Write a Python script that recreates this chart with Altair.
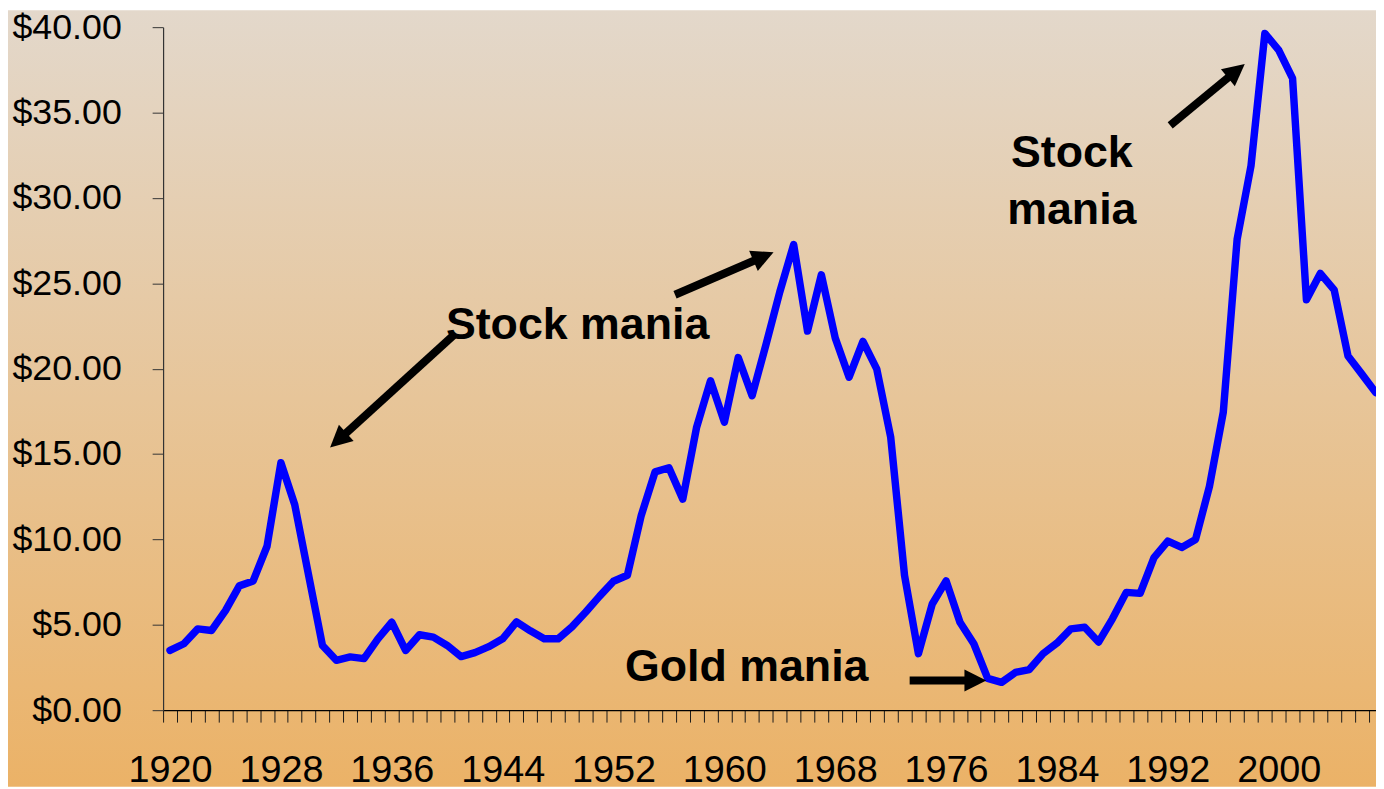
import math
import altair as alt
import pandas as pd

# ---------------- data ----------------
years = list(range(1920, 2008))
ratio = [3.50, 3.89, 4.76, 4.67, 5.83, 7.28, 7.57, 9.60, 14.49, 12.03,
         7.90, 3.79, 2.92, 3.12, 3.02, 4.18, 5.15, 3.50, 4.42, 4.28,
         3.79, 3.14, 3.37, 3.72, 4.18, 5.17, 4.65, 4.18, 4.18, 4.88,
         5.75, 6.68, 7.55, 7.90, 11.40, 13.96, 14.20, 12.36, 16.58, 19.29,
         16.87, 20.65, 18.42, 21.40, 24.50, 27.27, 22.20, 25.50, 21.80, 19.50,
         21.60, 19.97, 16.00, 7.90, 3.31, 6.22, 7.57, 5.15, 3.89, 1.86,
         1.63, 2.21, 2.38, 3.31, 3.93, 4.76, 4.86, 3.99, 5.35, 6.90,
         6.84, 8.93, 9.90, 9.53, 10.00, 13.10, 17.45, 27.58, 31.88, 39.63,
         38.66, 37.00, 24.04, 25.58, 24.62, 20.74, 19.68, 18.60]

y_ticks = [0, 5, 10, 15, 20, 25, 30, 35, 40]
x_label_years = [1920, 1928, 1936, 1944, 1952, 1960, 1968, 1976, 1984, 1992, 2000]

label_text = ["Stock mania", "Gold mania", "Stock", "mania"]
label_x = [1949.41, 1961.61, 1985.07, 1985.07]
label_y = [22.53, 2.55, 32.63, 29.26]

arrow_x0 = [1940.52, 1956.44, 1973.37, 1992.17]
arrow_y0 = [22.00, 24.33, 1.74, 34.25]
arrow_x1 = [1931.55, 1963.55, 1978.90, 1997.55]
arrow_y1 = [15.38, 26.82, 1.74, 37.85]

# ---------------- layout ----------------
W, H = 1220, 687
XMIN, XMAX = 1919.5, 2007.02
YMIN, YMAX = 0, 40
PAD = {"left": 156, "top": 17, "right": 0, "bottom": 77}
FONT = "Liberation Sans"

px_year = W / (XMAX - XMIN)
px_val = H / (YMAX - YMIN)

xs = alt.Scale(domain=[XMIN, XMAX], nice=False, zero=False)
ys = alt.Scale(domain=[YMIN, YMAX], nice=False, zero=False)

Y_AXIS = alt.Axis(
    orient="left", zindex=2,
    values=y_ticks, format="$.2f", labelFontSize=36, labelFont=FONT,
    labelColor="#000000", tickSize=11, tickColor="#333333", tickWidth=1,
    domainColor="#333333", domainWidth=1.2, labelPadding=31, grid=False,
    title=None)

df = pd.DataFrame({"year": years, "ratio": ratio})

# arrow geometry (shaft shortened so the head covers its end)
rows = []
for x0, y0, x1, y1 in zip(arrow_x0, arrow_y0, arrow_x1, arrow_y1):
    dx = (x1 - x0) * px_year
    dy = -(y1 - y0) * px_val
    L = math.hypot(dx, dy)
    ux, uy = dx / L, dy / L
    ang = math.degrees(math.atan2(ux, -uy)) % 360
    back = 14
    rows.append({
        "x0": x0, "y0": y0,
        "xs": x1 - back * ux / px_year, "ys": y1 + back * uy / px_val,
        "x1": x1, "y1": y1, "ang": ang,
    })
arrows = pd.DataFrame(rows)
labels = pd.DataFrame({"t": label_text, "x": label_x, "y": label_y})

grad = alt.Gradient(
    gradient="linear",
    stops=[alt.GradientStop(color="#E3D8CB", offset=0),
           alt.GradientStop(color="#EBB267", offset=1)],
    x1=0, x2=0, y1=0, y2=1,
)

bg = alt.Chart(pd.DataFrame({"a": [0]})).mark_rect(color=grad).encode(
    x=alt.value(-PAD["left"]), x2=alt.value(W),
    y=alt.value(-PAD["top"]), y2=alt.value(H + PAD["bottom"]),
)

line = alt.Chart(df).mark_line(
    color="#0000FF", strokeWidth=7.5, strokeJoin="round", strokeCap="round", clip=True
).encode(
    x=alt.X("year:Q", scale=xs, axis=alt.Axis(
        orient="bottom", zindex=2,
        values=[XMIN + k for k in range(88)], labels=False, ticks=True,
        tickSize=12, tickWidth=1, tickColor="#1a1a1a", domain=True,
        domainColor="#000000", domainWidth=1.2, grid=False, title=None)),
    y=alt.Y("ratio:Q", scale=ys, axis=Y_AXIS),
)

xlab = alt.Chart(df).mark_point(opacity=0).encode(
    x=alt.X("year:Q", scale=xs, axis=alt.Axis(
        orient="bottom", zindex=2,
        values=x_label_years, format="d", labelFontSize=38, labelFont=FONT,
        labelColor="#000000", ticks=False, domain=False, labelPadding=42,
        labelFlush=False, labelOverlap=False, grid=False, title=None)),
    y=alt.Y("ratio:Q", scale=ys, axis=Y_AXIS),
)

texts = alt.Chart(labels).mark_text(
    font=FONT, fontWeight="bold", fontSize=45, align="center",
    baseline="middle", color="#000000"
).encode(
    x=alt.X("x:Q", scale=xs, axis=None),
    y=alt.Y("y:Q", scale=ys, axis=Y_AXIS),
    text="t:N",
)

shafts = alt.Chart(arrows).mark_rule(strokeWidth=8, color="#000000", strokeCap="butt").encode(
    x=alt.X("x0:Q", scale=xs, axis=None), y=alt.Y("y0:Q", scale=ys, axis=Y_AXIS),
    x2="xs:Q", y2="ys:Q",
)

heads = alt.Chart(arrows).mark_point(
    shape="M0,0L-1,2L1,2Z", size=484, filled=True, opacity=1,
    color="#000000", strokeWidth=0
).encode(
    x=alt.X("x1:Q", scale=xs, axis=None), y=alt.Y("y1:Q", scale=ys, axis=Y_AXIS),
    angle=alt.Angle("ang:Q", scale=None),
)

chart = alt.layer(bg, line, xlab, texts, shafts, heads).resolve_axis(
    x="independent", y="shared"
).properties(
    width=W, height=H,
    autosize=alt.AutoSizeParams(type="none"),
    padding=PAD,
).configure_view(stroke=None)

chart.save("out.html", embed_options={"renderer": "svg", "actions": False})
